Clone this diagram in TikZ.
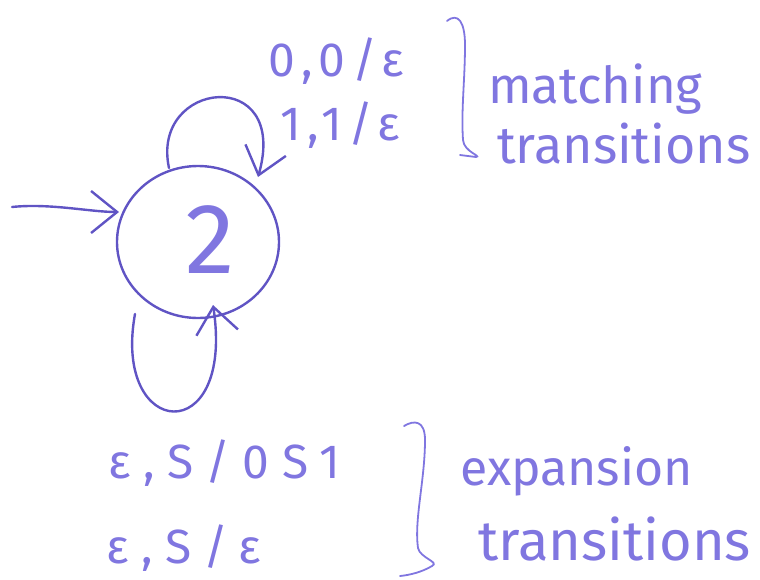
\documentclass[tikz,border=0pt]{standalone}
\usepackage{fontspec}
\setmainfont{Fira Sans}
\usetikzlibrary{arrows.meta,shapes.geometric}
\definecolor{ink}{RGB}{96,84,196}
\definecolor{inkl}{RGB}{128,118,224}
\tikzset{
  pen/.style={draw=ink, line width=2.4pt, line cap=round, line join=round},
  tip/.style={-{Straight Barb[length=26pt,width=42pt]}},
  lbl/.style={text=inkl, font=\fontsize{48}{50}\selectfont\addfontfeature{LetterSpace=14}, inner sep=0pt, anchor=base west},
  lblw/.style={text=inkl, font=\fontsize{48}{50}\selectfont\addfontfeature{LetterSpace=26}, inner sep=0pt, anchor=base west},
  word/.style={text=inkl, inner sep=0pt, anchor=base west},
  brk/.style={draw=inkl, line width=1.8pt, line cap=round}
}
\begin{document}
\begin{tikzpicture}[x=1pt,y=-1pt]
\useasboundingbox (0,0) rectangle (760,579);
\node[pen, ellipse, minimum width=162pt, minimum height=152pt, inner sep=0pt] (q) at (198,242) {};
\node[text=inkl, font=\fontsize{100}{100}\selectfont, inner sep=0pt] (ql) at (210,240) {2};
\coordinate (s) at (12,207);
\coordinate (sEnd) at (119,212);
\draw[pen, tip] (s) .. controls (50,203) and (90,212) .. (sEnd);
\coordinate (t0) at (169,168);
\coordinate (t1) at (258,177);
\draw[pen, tip] (t0) .. controls (150,80) and (290,65) .. (t1);
\coordinate (b0) at (135,314);
\coordinate (b1) at (213,305);
\draw[pen, tip] (b0) .. controls (112,440) and (235,450) .. (b1);
\node[lbl] (l1) at (268,76) {0,0/ε};
\node[lbl] (l2) at (280,140) {1,1/ε};
\node[word, font=\fontsize{51}{52}\selectfont] (m1) at (488,103) {matching};
\node[word, font=\fontsize{52}{54}\selectfont] (m2) at (497,163) {transitions};
\node[lblw] (l3) at (108,478) {ε,S/0S1};
\node[lblw] (l4) at (106,563) {ε,S/ε};
\node[word, font=\fontsize{50}{52}\selectfont] (e1) at (460,485) {expansion};
\node[word, font=\fontsize{56}{58}\selectfont] (e2) at (478,560) {transitions};
\draw[brk] (447,21) .. controls (458,12) and (465,22) .. (465,45)
  .. controls (465,80) and (461,110) .. (463,140)
  .. controls (464,152) and (482,156) .. (476,157) -- (460,155);
\draw[brk] (404,426) .. controls (414,420) and (425,420) .. (425,440)
  .. controls (425,480) and (414,520) .. (418,548)
  .. controls (420,558) and (440,562) .. (432,566)
  .. controls (422,572) and (410,575) .. (400,576);
\end{tikzpicture}
\end{document}
